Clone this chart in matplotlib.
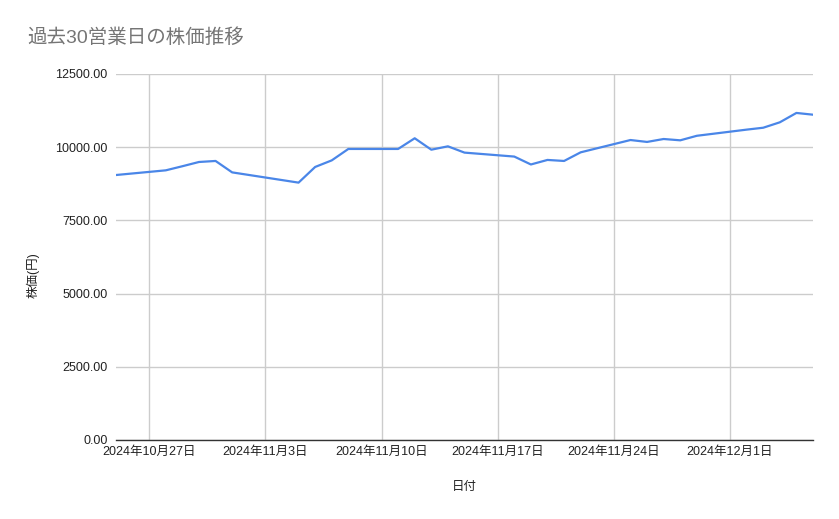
import numpy as np
import pandas as pd
import matplotlib
matplotlib.use("Agg")
import matplotlib.pyplot as plt
import matplotlib.dates as mdates
from matplotlib.ticker import FuncFormatter, MultipleLocator

plt.rcParams['font.family'] = ['Liberation Sans', 'Noto Sans CJK JP', 'DejaVu Sans']

# 30 business days (Nov 4 is a holiday)
dates = ["2024-10-25", "2024-10-28", "2024-10-29", "2024-10-30", "2024-10-31",
         "2024-11-01", "2024-11-05", "2024-11-06", "2024-11-07", "2024-11-08",
         "2024-11-11", "2024-11-12", "2024-11-13", "2024-11-14", "2024-11-15",
         "2024-11-18", "2024-11-19", "2024-11-20", "2024-11-21", "2024-11-22",
         "2024-11-25", "2024-11-26", "2024-11-27", "2024-11-28", "2024-11-29",
         "2024-12-02", "2024-12-03", "2024-12-04", "2024-12-05", "2024-12-06"]
prices = [9050, 9210, 9350, 9495, 9530,
          9140, 8790, 9325, 9550, 9940,
          9940, 10305, 9915, 10030, 9815,
          9680, 9410, 9565, 9530, 9825,
          10245, 10180, 10280, 10235, 10390,
          10600, 10665, 10850, 11170, 11110]

x = pd.to_datetime(dates)

fig = plt.figure(figsize=(8.39, 5.19), dpi=100)
ax = fig.add_axes([116/839, 1 - 440/519, (813-116)/839, (440-74)/519])

ax.plot(x, prices, color='#4a86e8', lw=1.6, solid_joinstyle='round')

ax.set_ylim(0, 12500)
ax.yaxis.set_major_locator(MultipleLocator(2500))
ax.yaxis.set_major_formatter(FuncFormatter(lambda v, p: f"{v:.2f}"))

ax.set_xlim(pd.Timestamp("2024-10-25"), pd.Timestamp("2024-12-06"))
ax.xaxis.set_major_locator(mdates.WeekdayLocator(byweekday=mdates.SU))
ax.xaxis.set_major_formatter(FuncFormatter(
    lambda v, p: (lambda d: f"{d.year}年{d.month}月{d.day}日")(mdates.num2date(v))))

ax.grid(True, color='#cccccc', lw=1)
ax.set_axisbelow(True)
for s in ['top', 'right', 'left']:
    ax.spines[s].set_visible(False)
ax.spines['bottom'].set_color('#333333')
ax.spines['bottom'].set_linewidth(1)
ax.spines['bottom'].set_zorder(3)
ax.tick_params(axis='both', length=0, labelsize=9, colors='#222222')
ax.tick_params(axis='y', pad=6)
ax.tick_params(axis='x', pad=4)

ax.set_xlabel("日付", fontsize=9, color='#222222', labelpad=17)
ax.set_ylabel("株価(円)", fontsize=9, color='#222222', labelpad=6)
ax.yaxis.set_label_coords(-76/697, 0.45)
fig.text(27/839, 1 - 38/519, "過去30営業日の株価推移", fontsize=14, color='#757575',
         va='center', ha='left')

fig.savefig("out.png", dpi=100)
